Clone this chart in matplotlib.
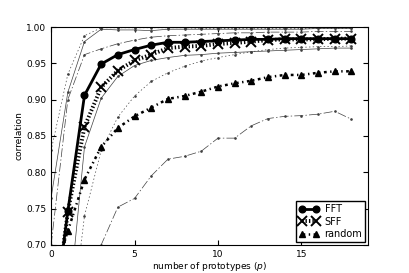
import matplotlib
matplotlib.use('Agg')
import matplotlib.pyplot as plt

plt.rcParams['lines.scale_dashes'] = False
plt.rcParams['xtick.direction'] = 'in'
plt.rcParams['ytick.direction'] = 'in'
plt.rcParams['xtick.top'] = True
plt.rcParams['ytick.right'] = True
plt.rcParams['font.size'] = 6.5

p = list(range(19))

fft_mean = [0.57, 0.746, 0.906, 0.949, 0.962, 0.969, 0.975, 0.979, 0.979, 0.980,
            0.981, 0.982, 0.983, 0.983, 0.984, 0.984, 0.984, 0.984, 0.984]
fft_max = [0.765, 0.910, 0.980, 0.997, 0.996, 0.996, 0.995, 0.997, 0.997, 0.997,
           0.997, 0.997, 0.997, 0.997, 0.997, 0.997, 0.998, 0.998, 0.998]
fft_min = [0.40, 0.60, 0.835, 0.902, 0.932, 0.947, 0.954, 0.958, 0.961, 0.962,
           0.964, 0.965, 0.966, 0.967, 0.968, 0.969, 0.970, 0.971, 0.971]

sff_mean = [0.57, 0.745, 0.8625, 0.917, 0.940, 0.954, 0.962, 0.971, 0.973, 0.974,
            0.9766, 0.978, 0.980, 0.982, 0.983, 0.983, 0.983, 0.984, 0.984]
sff_max = [0.83, 0.935, 0.988, 0.999, 0.999, 0.999, 0.999, 0.999, 0.999, 0.998,
           0.998, 0.998, 0.998, 0.998, 0.998, 0.998, 0.998, 0.998, 0.998]
sff_min = [0.40, 0.55, 0.74, 0.83, 0.876, 0.905, 0.925, 0.937, 0.946, 0.953,
           0.958, 0.962, 0.966, 0.969, 0.971, 0.972, 0.973, 0.973, 0.974]

rnd_mean = [0.645, 0.719, 0.790, 0.835, 0.861, 0.877, 0.889, 0.901, 0.905, 0.911,
            0.918, 0.9225, 0.926, 0.931, 0.934, 0.934, 0.937, 0.939, 0.939]
rnd_max = [0.70, 0.90, 0.962, 0.970, 0.977, 0.982, 0.986, 0.988, 0.989, 0.990,
           0.991, 0.992, 0.992, 0.993, 0.993, 0.993, 0.994, 0.994, 0.994]
rnd_min = [0.45, 0.55, 0.62, 0.70, 0.752, 0.764, 0.795, 0.818, 0.822, 0.829,
           0.847, 0.847, 0.864, 0.874, 0.877, 0.878, 0.880, 0.884, 0.873]

fig = plt.figure(figsize=(4.09, 2.73), dpi=100)
ax = fig.add_subplot(111)

# spread lines (thin)
thin = dict(color='0.25', lw=0.5, marker='.', ms=1.8)
ax.plot(p, fft_max, ls='-', **thin)
ax.plot(p, fft_min, ls='-', **thin)
ax.plot(p, sff_max, ls=':', **thin)
ax.plot(p, sff_min, ls=':', **thin)
ax.plot(p, rnd_max, ls='-.', **thin)
ax.plot(p, rnd_min, ls='-.', **thin)

# means
ax.plot(p, fft_mean, 'k-', lw=2, marker='o', ms=4.8, label='FFT')
ax.plot(p, sff_mean, 'k', ls=(0, (1, 1.5)), lw=2.8, marker='x', ms=7, mew=1.4,
        label='SFF')
ax.plot(p, rnd_mean, 'k', ls=(0, (2, 2.5, 1, 2.5)), lw=1.8, marker='^', ms=4.8,
        label='random')

ax.set_xlim(0, 19)
ax.set_ylim(0.70, 1.00)
ax.set_xticks([0, 5, 10, 15])
ax.set_yticks([0.70, 0.75, 0.80, 0.85, 0.90, 0.95, 1.00])
ax.set_yticklabels(['%.2f' % v for v in [0.70, 0.75, 0.80, 0.85, 0.90, 0.95, 1.00]])
ax.set_xlabel('number of prototypes ($p$)', labelpad=1)
ax.set_ylabel('correlation', labelpad=2)
ax.legend(loc='lower right', numpoints=2, fontsize=7, fancybox=False,
          framealpha=1, edgecolor='k', borderaxespad=0.3, handlelength=2.0,
          labelspacing=0.25, borderpad=0.3, handletextpad=0.6)

fig.subplots_adjust(left=0.125, right=0.9, bottom=0.103, top=0.901)
fig.savefig('out.png', dpi=100)
